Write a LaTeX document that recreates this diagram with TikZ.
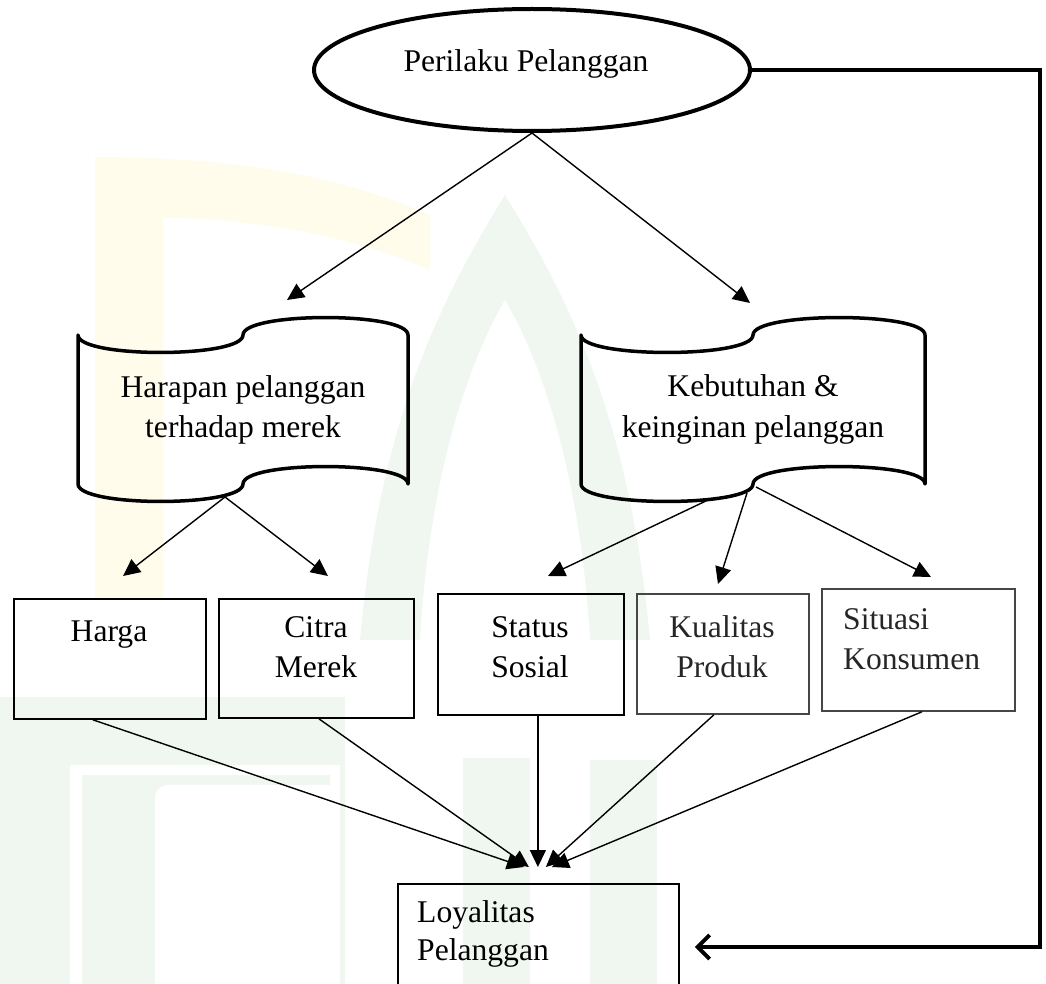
\documentclass[tikz,border=0pt]{standalone}
\usepackage{fontspec}
\setmainfont{Liberation Serif}
\usetikzlibrary{arrows.meta,shapes.geometric,calc}
\definecolor{wmY}{RGB}{255,252,236}
\definecolor{wmG}{RGB}{240,247,240}
\definecolor{grayln}{RGB}{70,70,70}
\newcommand\punchtape[5]{%
  \draw[docline] (#1,#3)
    .. controls (#1,{#3+1.33*#5}) and ({#1+#2/2},{#3+1.33*#5}) .. ({#1+#2/2},#3)
    .. controls ({#1+#2/2},{#3-1.33*#5}) and ({#1+#2},{#3-1.33*#5}) .. ({#1+#2},#3)
    -- ({#1+#2},#4)
    .. controls ({#1+#2},{#4-1.33*#5}) and ({#1+#2/2},{#4-1.33*#5}) .. ({#1+#2/2},#4)
    .. controls ({#1+#2/2},{#4+1.33*#5}) and (#1,{#4+1.33*#5}) .. (#1,#4)
    -- cycle;}
\begin{document}
\begin{tikzpicture}[x=1pt,y=-1pt,
  txt/.style={inner sep=0pt, font=\fontsize{31.6}{38}\selectfont, anchor=base},
  txtl/.style={txt, anchor=base west},
  ell/.style={draw, ellipse, line width=4pt, minimum width=436pt, minimum height=122pt, inner sep=0pt},
  docline/.style={line width=3.5pt, line join=round},
  box/.style={draw, line width=1.8pt, anchor=north west, inner sep=0pt},
  arr/.style={line width=1.4pt, -{Triangle[length=17pt,width=16pt]}},
  conn/.style={line width=4pt, line join=miter, -{Straight Barb[length=12pt,width=24pt]}}]
\useasboundingbox (0,0) rectangle (1046,984);
\clip (0,0) rectangle (1046,984);
% faint watermark
\fill[wmY] (95,600) -- (95,157) .. controls (250,157) and (350,180) .. (430,215)
  -- (430,270) .. controls (350,235) and (250,218) .. (163,218) -- (163,600) -- cycle;
\fill[wmG] (360,640) .. controls (380,420) and (440,300) .. (505,195)
  .. controls (570,300) and (630,420) .. (650,640) -- cycle;
\fill[white] (420,640) .. controls (430,470) and (470,360) .. (505,300)
  .. controls (540,360) and (580,470) .. (590,640) -- cycle;
\fill[wmG] (0,697) rectangle (345,984);
\fill[white] (70,984) -- (70,765) -- (340,765) -- (340,984) -- (330,984) -- (330,775) -- (82,775) -- (82,984) -- cycle;
\fill[white] (155,984) -- (155,800) .. controls (155,790) and (160,785) .. (170,785) -- (330,785) -- (330,984) -- cycle;
\fill[wmG] (463,758) rectangle (530,984);
\fill[wmG] (590,760) rectangle (657,984);
% top ellipse
\node[ell] (perilaku) at (532,70) {};
\node[txt] (perilakuT) at (526,72) {Perilaku Pelanggan};
% documents
\punchtape{78}{330}{335}{484}{17.5}
\node[txt] (harapan1) at (243,397) {Harapan pelanggan};
\node[txt] (harapan2) at (243,437) {terhadap merek};
\punchtape{581}{344}{335}{484}{17.5}
\node[txt] (kebutuhan1) at (753,396) {Kebutuhan \&};
\node[txt] (kebutuhan2) at (753,437) {keinginan pelanggan};
% boxes
\node[box, minimum width=192pt, minimum height=120pt] (harga) at (13,598) {};
\node[box, minimum width=195pt, minimum height=119pt] (citra) at (218,598) {};
\node[box, minimum width=186pt, minimum height=121pt] (status) at (437,593) {};
\node[box, draw=grayln, minimum width=172pt, minimum height=120pt] (kualitas) at (636,593) {};
\node[box, draw=grayln, minimum width=193pt, minimum height=122pt] (situasi) at (821,588) {};
\node[box, minimum width=281pt, minimum height=140pt] (loy) at (397,883) {};
\node[txt] (hargaT) at (109,641) {Harga};
\node[txt] (citra1) at (316,637) {Citra};
\node[txt] (citra2) at (316,677) {Merek};
\node[txt] (status1) at (530,637) {Status};
\node[txt] (status2) at (530,677) {Sosial};
\node[txt, text=black!85] (kual1) at (722,637) {Kualitas};
\node[txt, text=black!85] (kual2) at (722,677) {Produk};
\node[txtl, text=black!85] (sit1) at (843,629) {Situasi};
\node[txtl, text=black!85] (sit2) at (843,669) {Konsumen};
\node[txtl] (loy1) at (417,922) {Loyalitas};
\node[txtl] (loy2) at (417,960) {Pelanggan};
% coordinates for arrow tips and starts
\coordinate (hTip) at (287,300);
\coordinate (kTip) at (750,303);
\coordinate (hB) at (225,497);
\coordinate (kB1) at (708,500);
\coordinate (kB2) at (747,493);
\coordinate (kB3) at (756,487);
\coordinate (hargaTip) at (123,576);
\coordinate (citraTip) at (328,576);
\coordinate (statusTip) at (548,576);
\coordinate (kualTip) at (718,584);
\coordinate (sitTip) at (931,577);
\coordinate (rTop) at (1040,70);
\coordinate (rBot) at (1040,947);
% connectors
\draw[arr] (perilaku.south) -- (hTip);
\draw[arr] (perilaku.south) -- (kTip);
\draw[arr] (hB) -- (hargaTip);
\draw[arr] (hB) -- (citraTip);
\draw[arr] (kB1) -- (statusTip);
\draw[arr] (kB2) -- (kualTip);
\draw[arr] (kB3) -- (sitTip);
\draw[arr] ([xshift=-17pt]harga.south) -- ([xshift=-14.5pt,yshift=16pt]loy.north);
\draw[arr] ([xshift=2.5pt]citra.south) -- ([xshift=-9.5pt,yshift=16pt]loy.north);
\draw[arr] ([xshift=7pt]status.south) -- ([xshift=-0.5pt,yshift=16pt]loy.north);
\draw[arr] ([xshift=-9pt]kualitas.south) -- ([xshift=7.5pt,yshift=16pt]loy.north);
\draw[arr] ([xshift=3.5pt]situasi.south) -- ([xshift=13.5pt,yshift=16pt]loy.north);
\draw[conn, shorten >=15pt] (perilaku.east) -- (perilaku.east -| rTop) -- (rBot) -- (loy.east |- rBot);
\end{tikzpicture}
\end{document}
